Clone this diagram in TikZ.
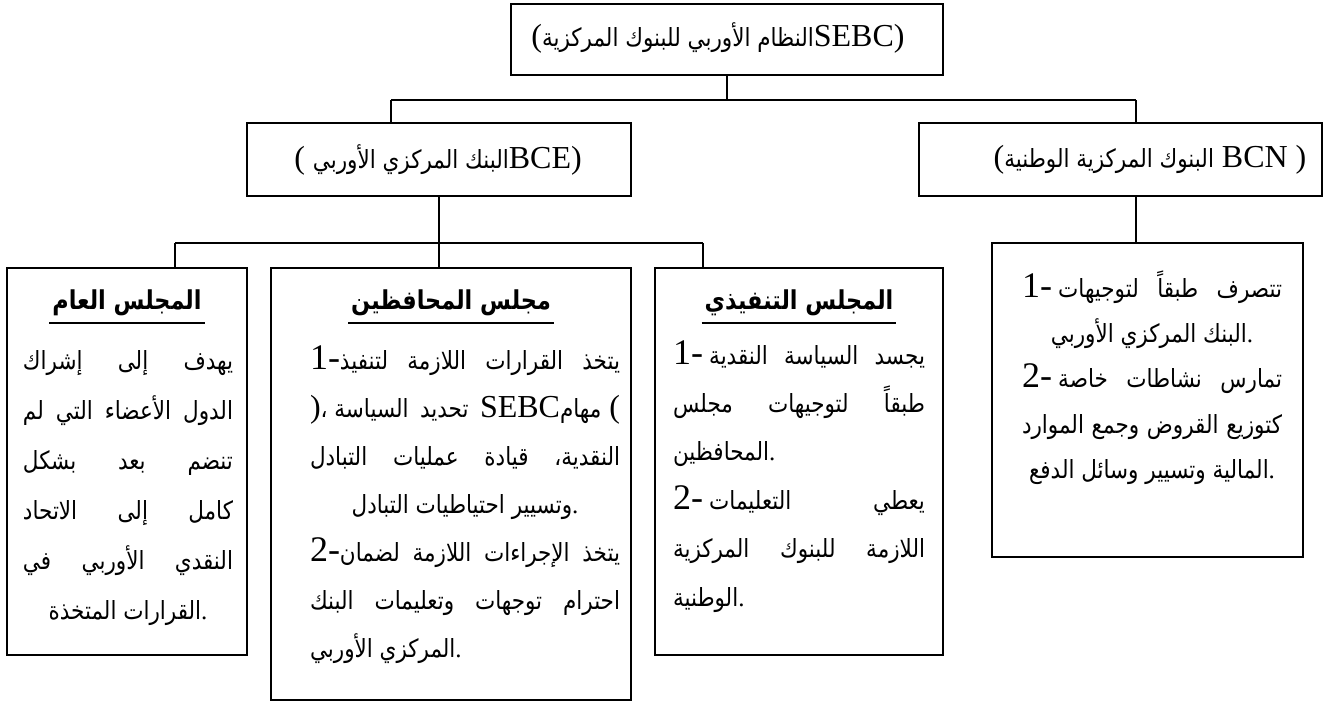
\documentclass[tikz,border=0pt]{standalone}
\usepackage{fontspec}
\setmainfont{Liberation Serif}
\newfontfamily\arfont[Script=Arabic,FakeStretch=0.86]{DejaVu Sans}
\TeXXeTstate=1
\usetikzlibrary{fit}

\newcommand{\artx}[1]{{\arfont\beginR #1\endR}}        % Arabic run, right to left
\newcommand{\dgt}[1]{{\fontsize{18}{18}\selectfont #1}}  % item numbers
\newcommand{\ltn}[1]{{\fontsize{16}{16}\selectfont #1}}  % latin abbreviations
% one paragraph = fixed width, fixed line pitch
\newcommand{\para}[3]{\vtop{\hsize=#1\baselineskip=#2\lineskiplimit=-50pt\lineskip=0pt\relax #3}}
\newcommand{\justl}[1]{\hbox to\hsize{#1}}
\newcommand{\centl}[1]{\hbox to\hsize{\hfil#1\hfil}}
\newcommand{\leftl}[1]{\hbox to\hsize{#1\hfil}}

\begin{document}
\begin{tikzpicture}[x=0.5pt,y=-0.5pt,line width=1.1pt,
  box/.style={draw,inner sep=0pt},
  hd/.style={font=\bfseries\fontsize{13}{15}\selectfont,inner xsep=1pt,inner ysep=3pt},
  lbl/.style={font=\fontsize{12.5}{14}\selectfont,inner sep=0pt},
  body/.style={anchor=base,inner sep=0pt,font=\fontsize{12.5}{14}\selectfont}]
\useasboundingbox (0,0) rectangle (1328,701);

% boxes
\node[box,fit={(511,4) (943,75)}] (top) {};
\node[box,fit={(247,123) (631,196)}] (bce) {};
\node[box,fit={(919,123) (1322,196)}] (bcn) {};
\node[box,fit={(992,243) (1303,557)}] (bcnd) {};
\node[box,fit={(7,268) (247,655)}] (gen) {};
\node[box,fit={(271,268) (631,700)}] (gov) {};
\node[box,fit={(655,268) (943,655)}] (exe) {};

% connectors
\coordinate (busT) at (727,100);
\coordinate (bceIn) at (391,123);
\coordinate (bcnIn) at (1136,123);
\coordinate (busM) at (439,243);
\coordinate (genIn) at (175,268);
\coordinate (exeIn) at (703,268);
\draw (top.south) -- (busT);
\draw (bceIn |- busT) -- (bcnIn |- busT);
\draw (bceIn |- busT) -- (bceIn);
\draw (bcnIn |- busT) -- (bcnIn);
\draw (bce.south) -- (busM);
\draw (genIn |- busM) -- (exeIn |- busM);
\draw (genIn |- busM) -- (genIn);
\draw (busM) -- (gov.north -| busM);
\draw (exeIn |- busM) -- (exeIn);
\draw (bcn.south -| bcnIn) -- (bcnd.north -| bcnIn);

% titles
\node[lbl] (toptx) at (718,38) {\ltn{(}\artx{النظام الأوربي للبنوك المركزية}\ltn{SEBC)}};
\node[lbl] (bcetx) at (438,160) {\ltn{( }\artx{البنك المركزي الأوربي}\ltn{BCE)}};
\node[lbl] (bcntx) at (1150,160) {\ltn{(}\artx{البنوك المركزية الوطنية}\ltn{ BCN )}};

\node[hd] (genh) at (127,303) {\artx{المجلس العام}};
\node[hd] (govh) at (451,303) {\artx{مجلس المحافظين}};
\node[hd] (exeh) at (799,303) {\artx{المجلس التنفيذي}};
\foreach \h in {genh,govh,exeh}
  \draw (\h.south west) -- (\h.south east);

% texts
\node[body] (gentx) at (128,369) {\para{105pt}{25pt}{%
  \justl{\artx{يهدف\hfill إلى\hfill إشراك}}
  \justl{\artx{الدول\hfill الأعضاء\hfill التي\hfill لم}}
  \justl{\artx{تنضم\hfill بعد\hfill بشكل}}
  \justl{\artx{كامل\hfill إلى\hfill الاتحاد}}
  \justl{\artx{النقدي\hfill الأوربي\hfill في}}
  \centl{\artx{القرارات المتخذة}.}}};

\node[body] (govtx) at (465,369) {\para{155pt}{24pt}{%
  \justl{\dgt{1-}\artx{يتخذ\hfill القرارات\hfill اللازمة\hfill لتنفيذ}}
  \justl{\ltn{)}\artx{تحديد\hfill السياسة ،}\hfill\ltn{SEBC}\artx{مهام}\ltn{ (}}
  \justl{\artx{النقدية،\hfill قيادة\hfill عمليات\hfill التبادل}}
  \centl{\artx{وتسيير احتياطيات التبادل}.}
  \justl{\dgt{2-}\artx{يتخذ\hfill الإجراءات\hfill اللازمة\hfill لضمان}}
  \justl{\artx{احترام\hfill توجهات\hfill وتعليمات\hfill البنك}}
  \leftl{\artx{المركزي الأوربي}.}}};

\node[body] (exetx) at (799,364) {\para{126pt}{24.2pt}{%
  \justl{\dgt{1-} \artx{يجسد\hfill السياسة\hfill النقدية}}
  \justl{\artx{طبقاً\hfill لتوجيهات\hfill مجلس}}
  \leftl{\artx{المحافظين}.}
  \justl{\dgt{2-} \artx{يعطي\hfill التعليمات}}
  \justl{\artx{اللازمة\hfill للبنوك\hfill المركزية}}
  \leftl{\artx{الوطنية}.}}};

\node[body] (bcndtx) at (1152,297) {\para{130pt}{22.7pt}{%
  \justl{\dgt{1-} \artx{تتصرف\hfill طبقاً\hfill لتوجيهات}}
  \centl{\artx{البنك المركزي الأوربي}.}
  \justl{\dgt{2-} \artx{تمارس\hfill نشاطات\hfill خاصة}}
  \justl{\artx{كتوزيع\hfill القروض\hfill وجمع\hfill الموارد}}
  \centl{\artx{المالية وتسيير وسائل الدفع}.}}};
\end{tikzpicture}
\end{document}
